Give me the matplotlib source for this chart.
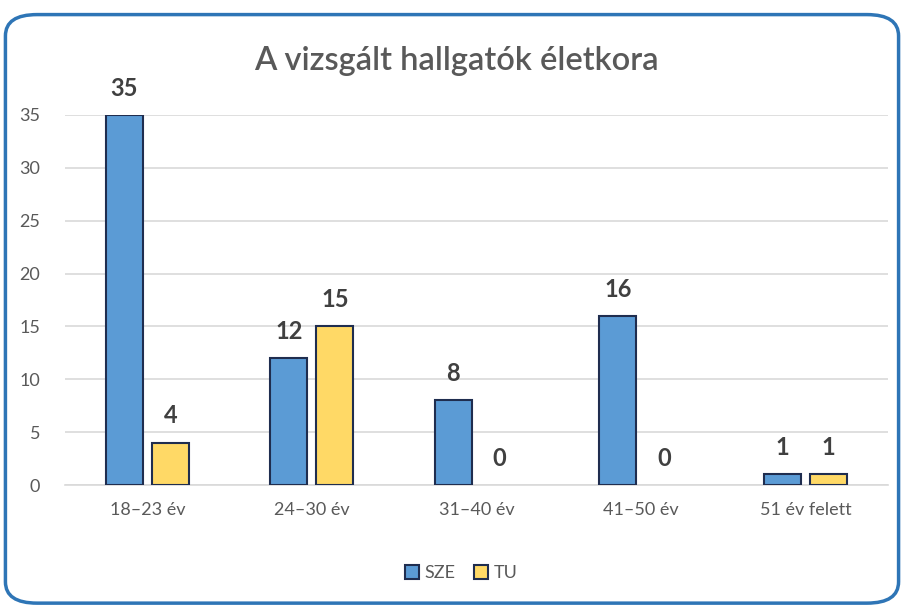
import matplotlib
matplotlib.use("Agg")
import matplotlib.pyplot as plt
from matplotlib.patches import FancyBboxPatch, Patch
import numpy as np

categories = ["18–23 év", "24–30 év", "31–40 év", "41–50 év", "51 év felett"]
sze = [35, 12, 8, 16, 1]
tu = [4, 15, 0, 0, 1]
series_names = ["SZE", "TU"]

plt.rcParams['font.family'] = ['Lato', 'DejaVu Sans']

fig = plt.figure(figsize=(9.04, 6.08), dpi=100)
fig.patch.set_facecolor('white')

border = FancyBboxPatch((0.006, 0.008), 0.988, 0.968, boxstyle="round,pad=0,rounding_size=0.035",
                        transform=fig.transFigure, facecolor='none', edgecolor='#2e75b6',
                        linewidth=2.5, zorder=-10)
fig.patches.append(border)

ax = fig.add_axes([0.0719, 0.2023, 0.9101, 0.6086])
ax.set_facecolor('none')
ax.set_zorder(5)

x = np.arange(len(categories))
w = 0.225
off = 0.14
c_sze = '#5b9bd5'
c_tu = '#ffd966'
edge = '#1f2d4f'
b1 = ax.bar(x - off, sze, w, color=c_sze, edgecolor=edge, linewidth=1.5, zorder=3)
b2 = ax.bar(x + off, tu, w, color=c_tu, edgecolor=edge, linewidth=1.5, zorder=3)

for bars, vals in ((b1, sze), (b2, tu)):
    for b, v in zip(bars, vals):
        if v == 0:
            b.set_linewidth(0)
        ax.annotate(str(v), (b.get_x() + b.get_width() / 2, v), xytext=(0, 11),
                    textcoords='offset points', ha='center', va='bottom',
                    fontsize=17, fontweight='bold', color='#404040', annotation_clip=False)

ax.set_xlim(-0.5, len(categories) - 0.5)
ax.set_ylim(0, 35)
ax.set_yticks(range(0, 36, 5))
ax.grid(axis='y', color='#d9d9d9', linewidth=1.2, zorder=0)
for s in ['top', 'right', 'left']:
    ax.spines[s].set_visible(False)
ax.spines['bottom'].set_color('#d9d9d9')
ax.spines['bottom'].set_linewidth(1.2)
ax.tick_params(axis='both', length=0, labelsize=13, colors='#595959')
ax.tick_params(axis='y', pad=18)
ax.tick_params(axis='x', pad=12)
ax.set_xticks(x)
ax.set_xticklabels(categories)

fig.text(0.505, 0.9, "A vizsgált hallgatók életkora", ha='center', va='center',
         fontsize=23.5, color='#595959', fontweight='semibold')

handles = [Patch(facecolor=c_sze, edgecolor=edge, linewidth=1.5),
           Patch(facecolor=c_tu, edgecolor=edge, linewidth=1.5)]
fig.legend(handles, series_names, loc='center', bbox_to_anchor=(0.51, 0.057), ncol=2,
           frameon=False, fontsize=13, handlelength=0.8, handleheight=0.8,
           handletextpad=0.3, columnspacing=1.0, labelcolor='#595959')

fig.savefig("out.png", dpi=100)
